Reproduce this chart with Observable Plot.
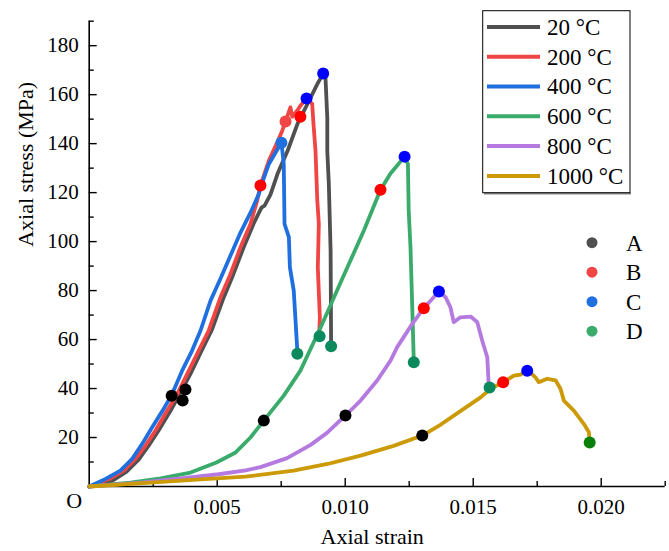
<!DOCTYPE html>
<html><head><meta charset="utf-8">
<script src="https://cdn.jsdelivr.net/npm/d3@7"></script>
<script src="https://cdn.jsdelivr.net/npm/@observablehq/plot@0.6"></script>
<style>
html,body{margin:0;padding:0;background:#fff;}
#chart{width:669px;height:551px;}
svg{font-family:"Liberation Serif","Times New Roman",serif;}
</style></head><body><div id="chart"></div>
<script>
// ---- data ----
const temperatures = ["20 °C", "200 °C", "400 °C", "600 °C", "800 °C", "1000 °C"];
const lineColors = ["#505050", "#f04545", "#1f6fdf", "#3aab6b", "#b57ae0", "#cc9a06"];

// [axial strain, axial stress (MPa)]
const curve20 = [[0,0],[0.00091,2.4],[0.00146,6.1],[0.00193,11.0],[0.00232,16.7],[0.00271,22.9],[0.00318,31.0],[0.00357,38.4],[0.00396,46.1],[0.00439,55.5],[0.00478,63.7],[0.00525,77.1],[0.00564,86.9],[0.00603,97.6],[0.00642,107.3],[0.00673,113.9],[0.00685,114.7],[0.00708,119.2],[0.00736,127.8],[0.00775,137.1],[0.00814,148.2],[0.00853,156.3],[0.00892,164.5],[0.00914,168.6],[0.00923,166.9],[0.00930,150.6],[0.00930,137.1],[0.00936,123.7],[0.00943,96.3],[0.00945,57.3]];
const curve200 = [[0,0],[0.00083,3.3],[0.00135,6.5],[0.00181,11.3],[0.00220,16.7],[0.00259,22.9],[0.00305,31.0],[0.00344,37.8],[0.00383,46.0],[0.00428,55.5],[0.00467,63.7],[0.00513,77.3],[0.00552,86.8],[0.00591,97.7],[0.00630,107.2],[0.00656,116.7],[0.00669,122.9],[0.00702,133.1],[0.00732,139.9],[0.00754,145.3],[0.00767,149.0],[0.00779,152.7],[0.00786,154.8],[0.00793,151.0],[0.00813,153.5],[0.00825,155.5],[0.00849,158.4],[0.00871,156.2],[0.00877,146.7],[0.00884,137.1],[0.00891,116.7],[0.00897,107.2],[0.00893,89.5],[0.00901,69.1],[0.00898,61.4]];
const curve400 = [[0,0],[0.00064,3.1],[0.00122,6.5],[0.00168,11.3],[0.00207,17.4],[0.00246,24.2],[0.00291,31.7],[0.00324,37.8],[0.00363,47.3],[0.00402,55.5],[0.00435,63.7],[0.00474,75.9],[0.00513,84.9],[0.00552,94.3],[0.00591,103.7],[0.00630,111.8],[0.00663,119.5],[0.00673,123.3],[0.00702,131.7],[0.00732,137.1],[0.00751,140.4],[0.00760,131.7],[0.00763,107.2],[0.00780,101.8],[0.00784,89.5],[0.00799,80.0],[0.00813,55.5],[0.00813,54.2]];
const curve600 = [[0,0],[0.00161,1.6],[0.00279,3.3],[0.00396,5.7],[0.00497,9.8],[0.00572,13.9],[0.00630,20.0],[0.00682,26.9],[0.00760,37.1],[0.00825,47.3],[0.00904,64.9],[0.00982,83.3],[0.01073,104.5],[0.01138,121.2],[0.01177,127.8],[0.01232,134.7],[0.01245,131.7],[0.01248,112.7],[0.01255,97.7],[0.01262,73.2],[0.01268,50.7]];
const curve800 = [[0,0],[0.00200,1.6],[0.00376,3.5],[0.00505,5.0],[0.00611,6.6],[0.00669,7.9],[0.00773,11.6],[0.00865,17.0],[0.00930,22.0],[0.01001,29.0],[0.01060,35.1],[0.01125,43.3],[0.01177,51.4],[0.01203,56.9],[0.01262,66.4],[0.01307,72.8],[0.01366,79.6],[0.01392,77.3],[0.01411,73.2],[0.01424,67.1],[0.01450,69.1],[0.01490,69.4],[0.01516,67.1],[0.01535,59.6],[0.01555,52.8],[0.01561,40.5]];
const curve1000 = [[0,0],[0.00240,1.6],[0.00435,2.9],[0.00611,4.0],[0.00798,6.5],[0.00931,9.2],[0.01060,12.6],[0.01189,16.6],[0.01301,20.8],[0.01372,25.2],[0.01450,30.8],[0.01529,36.4],[0.01568,39.9],[0.01617,42.6],[0.01659,45.3],[0.01685,45.7],[0.01711,47.3],[0.01724,46.5],[0.01743,44.6],[0.01756,42.6],[0.01789,44.0],[0.01822,43.3],[0.01841,39.9],[0.01854,35.1],[0.01893,31.0],[0.01932,25.6],[0.01952,22.2],[0.01954,19.5]];
const curves = [curve20, curve200, curve400, curve600, curve800, curve1000];

// characteristic points [strain, stress, point code]; "*" = alternative tone
const points20 = [[0.00365,35.1,"A"],[0.00825,151.0,"B"],[0.00914,168.6,"C"],[0.00945,57.3,"D"]];
const points200 = [[0.00376,39.6,"A"],[0.00767,149.0,"B*"],[0.00849,158.4,"C"],[0.00900,61.4,"D"]];
const points400 = [[0.00322,37.1,"A"],[0.00669,122.9,"B"],[0.00751,140.4,"C*"],[0.00813,54.2,"D"]];
const points600 = [[0.00682,26.9,"A"],[0.01138,121.2,"B"],[0.01232,134.7,"C"],[0.01268,50.7,"D"]];
const points800 = [[0.01001,29.0,"A"],[0.01307,72.8,"B"],[0.01366,79.6,"C"],[0.01564,40.4,"D"]];
const points1000 = [[0.01301,20.8,"A"],[0.01617,42.6,"B"],[0.01711,47.3,"C"],[0.01955,18.0,"D*"]];
const pointSets = [points20, points200, points400, points600, points800, points1000];

const pointLabels = ["A", "B", "C", "D"];
const pointLegendColors = ["#505050", "#f04545", "#1f6fdf", "#3aab6b"];
const pointColors = {"A": "#000000", "B": "#ff0000", "C": "#0000ff", "D": "#0c8a5e",
                     "B*": "#f04545", "C*": "#1f6fdf", "D*": "#0a800a"};

const xMajor = [0.005, 0.010, 0.015, 0.020];
const xMinor = [0.0025, 0.0075, 0.0125, 0.0175, 0.0225];
const yMajor = [0, 20, 40, 60, 80, 100, 120, 140, 160, 180];
const yMinor = [10, 30, 50, 70, 90, 110, 130, 150, 170, 190];
const yLabelTicks = [20, 40, 60, 80, 100, 120, 140, 160, 180];
const xTitle = "Axial strain";
const yTitle = "Axial stress (MPa)";
const originLabel = "O";

// ---- tables ----
const colorOf = Object.fromEntries(temperatures.map((t, i) => [t, lineColors[i]]));
const rows = curves.flatMap((c, i) => c.map(([x, y]) => ({temp: temperatures[i], x, y})));
const pts = pointSets.flatMap((s, i) => s.map(([x, y, code]) => ({temp: temperatures[i], x, y, code})));

const font = '"Liberation Serif","Times New Roman",serif';
const svg = Plot.plot({
  width: 669, height: 551,
  marginLeft: 88.7, marginRight: 4.3, marginTop: 20.7, marginBottom: 65,
  style: {fontFamily: font, fontSize: "21px", color: "#000", background: "#fff", overflow: "visible"},
  x: {domain: [0, 0.0225], label: null},
  y: {domain: [0, 190], label: null},
  marks: [
    Plot.axisX(xMajor, {tickSize: -8, tickFormat: () => "", strokeWidth: 1.4, label: null}),
    Plot.axisX(xMinor, {tickSize: -5, tickFormat: () => "", strokeWidth: 1.4, label: null}),
    Plot.axisX(xMajor, {tickSize: 0, tickPadding: 13, tickFormat: d3.format(".3f"), fontSize: 21, label: null}),
    Plot.axisY(yMajor, {tickSize: -8, tickFormat: () => "", strokeWidth: 1.4, label: null}),
    Plot.axisY(yMinor, {tickSize: -5, tickFormat: () => "", strokeWidth: 1.4, label: null}),
    Plot.axisY(yLabelTicks, {tickSize: 0, tickPadding: 10.5, fontSize: 21, label: null}),
    Plot.ruleX([0], {strokeWidth: 1.6}),
    Plot.ruleY([0], {strokeWidth: 1.6}),
    Plot.text([originLabel], {x: () => 0, y: () => 0, text: d => d, dx: -15, dy: 14, fontSize: 22}),
    Plot.text([xTitle], {frameAnchor: "bottom", text: d => d, dx: -5, dy: 57, fontSize: 22}),
    Plot.text([yTitle], {frameAnchor: "left", text: d => d, dx: -63.7, dy: -7, rotate: -90, fontSize: 22}),
    Plot.line(rows, {x: "x", y: "y", z: "temp", stroke: d => colorOf[d.temp], strokeWidth: 3.8,
                     strokeLinejoin: "round", strokeLinecap: "round", curve: "linear"}),
    Plot.dot(pts, {x: "x", y: "y", r: 6, fill: d => pointColors[d.code], stroke: null})
  ]
});
document.getElementById("chart").appendChild(svg);

// ---- legends (drawn inside the SVG) ----
const s = d3.select(svg);
const lg = s.append("g").attr("font-family", font).attr("font-size", 23).attr("text-anchor", "start");
lg.append("line").attr("x1", 484).attr("x2", 631).attr("y1", 193.6).attr("y2", 193.6)
  .attr("stroke", "#888").attr("stroke-width", 1.6);
lg.append("rect").attr("x", 482.7).attr("y", 10.7).attr("width", 147.3).attr("height", 182)
  .attr("fill", "#fff").attr("stroke", "#000").attr("stroke-width", 1);
temperatures.forEach((t, i) => {
  const yy = 26.9 + i * 29.8;
  lg.append("line").attr("x1", 487).attr("x2", 540).attr("y1", yy).attr("y2", yy)
    .attr("stroke", lineColors[i]).attr("stroke-width", 4);
  lg.append("text").attr("x", 547).attr("y", yy).attr("dy", "0.34em").text(t);
});
const lg2 = s.append("g").attr("font-family", font).attr("font-size", 23).attr("text-anchor", "start");
pointLabels.forEach((p, i) => {
  const yy = 242.7 + i * 29.5;
  lg2.append("circle").attr("cx", 592).attr("cy", yy).attr("r", 5.5).attr("fill", pointLegendColors[i]);
  lg2.append("text").attr("x", 626).attr("y", yy).attr("dy", "0.34em").text(p);
});
</script></body></html>
